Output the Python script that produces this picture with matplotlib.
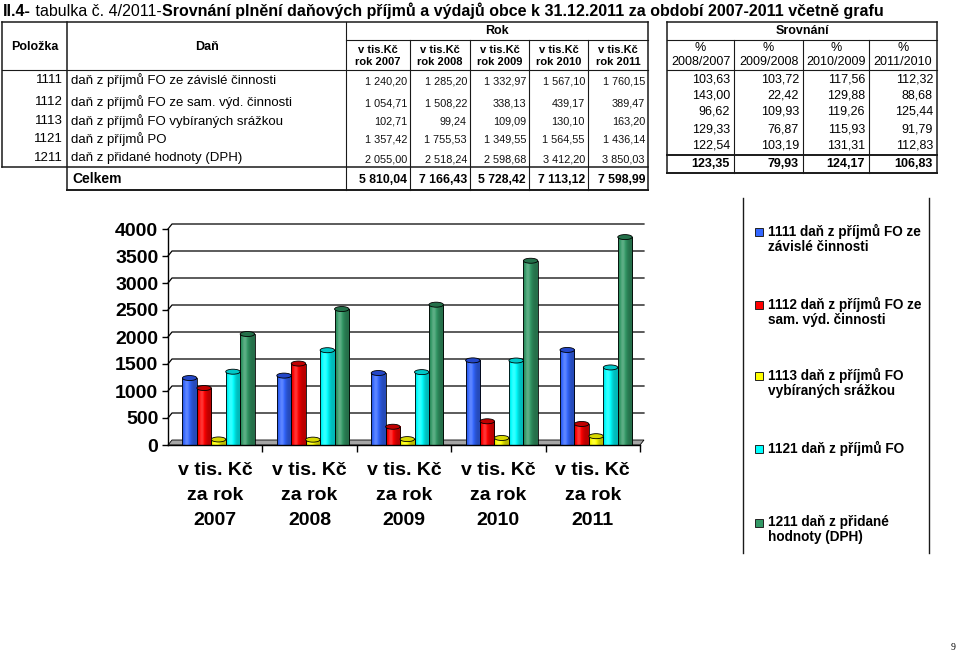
import numpy as np
import matplotlib
matplotlib.use('Agg')
import matplotlib.pyplot as plt
from matplotlib.patches import Ellipse, Polygon, Rectangle

# ---------------- data ----------------
years = ['2007', '2008', '2009', '2010', '2011']
codes = ['1111', '1112', '1113', '1121', '1211']
tax_names = ['daň z příjmů FO ze závislé činnosti',
             'daň z příjmů FO ze sam. výd. činnosti',
             'daň z příjmů FO vybíraných srážkou',
             'daň z příjmů PO',
             'daň z přidané hodnoty (DPH)']
legend_labels = ['1111 daň z příjmů FO ze\nzávislé činnosti',
                 '1112 daň z příjmů FO ze\nsam. výd. činnosti',
                 '1113 daň z příjmů FO\nvybíraných srážkou',
                 '1121 daň z příjmů FO',
                 '1211 daň z přidané\nhodnoty (DPH)']
v1111 = [1240.20, 1285.20, 1332.97, 1567.10, 1760.15]
v1112 = [1054.71, 1508.22, 338.13, 439.17, 389.47]
v1113 = [102.71, 99.24, 109.09, 130.10, 163.20]
v1121 = [1357.42, 1755.53, 1349.55, 1564.55, 1436.14]
v1211 = [2055.00, 2518.24, 2598.68, 3412.20, 3850.03]
totals = [5810.04, 7166.43, 5728.42, 7113.12, 7598.99]
series = [v1111, v1112, v1113, v1121, v1211]

cmp_periods = ['2008/2007', '2009/2008', '2010/2009', '2011/2010']
c1111 = [103.63, 103.72, 117.56, 112.32]
c1112 = [143.00, 22.42, 129.88, 88.68]
c1113 = [96.62, 109.93, 119.26, 125.44]
c1121 = [129.33, 76.87, 115.93, 91.79]
c1211 = [122.54, 103.19, 131.31, 112.83]
cmp_total = [123.35, 79.93, 124.17, 106.83]
cmp_rows = [c1111, c1112, c1113, c1121, c1211]

colors = ['#3366FF', '#FF0000', '#FFFF00', '#00FFFF', '#339966']
top_colors = ['#2447C8', '#C00000', '#D8D800', '#00C8C8', '#24704A']

SANS = 'Liberation Sans'


def fmt(v):
    return f"{v:,.2f}".replace(',', ' ').replace('.', ',')


def fmt_pct(v):
    return f"{v:.2f}".replace('.', ',')


fig = plt.figure(figsize=(9.6, 6.53), dpi=100)
bg = fig.add_axes([0, 0, 1, 1])
bg.set_xlim(0, 960)
bg.set_ylim(653, 0)
bg.axis('off')

LC = '#1a1a1a'


def hline(y, x0, x1, lw=0.8):
    bg.plot([x0, x1], [y, y], color=LC, lw=lw, solid_capstyle='projecting')


def vline(x, y0, y1, lw=0.8):
    bg.plot([x, x], [y0, y1], color=LC, lw=lw, solid_capstyle='projecting')


# ---------------- title ----------------
title_parts = [("II.4-", 'bold'), (" tabulka č. 4/2011-", 'normal'),
               ("Srovnání plnění daňových příjmů a výdajů obce k 31.12.2011 za období 2007-2011 včetně grafu", 'bold')]
fs0 = 10
tt = []
t = bg.text(3, 11, title_parts[0][0], fontsize=fs0, fontweight=title_parts[0][1],
            family=SANS, va='center', ha='left')
tt.append(t)
for txt, w in title_parts[1:]:
    t = bg.annotate(txt, xy=(1, 0.5), xycoords=tt[-1], fontsize=fs0, fontweight=w,
                    family=SANS, va='center', ha='left')
    tt.append(t)
fig.canvas.draw()
r = fig.canvas.get_renderer()
right = tt[-1].get_window_extent(r).x1
left = tt[0].get_window_extent(r).x0
scale = (880 - 3) / (right - left)
for t in tt:
    t.set_fontsize(fs0 * scale)

# ---------------- table 1 ----------------
L_cols = [2, 67, 346, 410, 470, 529, 588, 648]
T_top, T_rok, T_head = 22, 40, 70
row_bottom, cel_bottom = 167, 190
row_y = [80, 102, 121, 139, 158]
cel_y = 179

hline(T_top, L_cols[0], L_cols[-1], 1.1)
hline(T_rok, L_cols[2], L_cols[-1])
hline(T_head, L_cols[0], L_cols[-1])
hline(row_bottom, L_cols[0], L_cols[-1], 1.1)
hline(cel_bottom, L_cols[1], L_cols[-1], 1.4)
vline(L_cols[0], T_top, row_bottom, 1.1)
vline(L_cols[1], T_top, cel_bottom, 1.1)
vline(L_cols[2], T_top, cel_bottom)
for xc in L_cols[3:-1]:
    vline(xc, T_rok, cel_bottom)
vline(L_cols[-1], T_top, cel_bottom, 1.1)

bg.text((L_cols[0] + L_cols[1]) / 2, 47, 'Položka', fontsize=9, fontweight='bold',
        family=SANS, ha='center', va='center')
bg.text((L_cols[1] + L_cols[2]) / 2, 47, 'Daň', fontsize=9, fontweight='bold',
        family=SANS, ha='center', va='center')
bg.text((L_cols[2] + L_cols[-1]) / 2, 31, 'Rok', fontsize=9, fontweight='bold',
        family=SANS, ha='center', va='center')
for j, yr in enumerate(years):
    xc = (L_cols[2 + j] + L_cols[3 + j]) / 2
    bg.text(xc, 56, f'v tis.Kč\nrok {yr}', fontsize=8, fontweight='bold', family=SANS,
            ha='center', va='center', linespacing=1.3)

for i in range(5):
    y = row_y[i]
    bg.text(L_cols[1] - 4, y, codes[i], fontsize=9.5, family=SANS, ha='right', va='center')
    bg.text(L_cols[1] + 4, y, tax_names[i], fontsize=9.5, family=SANS, ha='left', va='center')
    for j in range(5):
        bg.text(L_cols[3 + j] - 3, y + 1, fmt(series[i][j]), fontsize=7.8, family=SANS,
                ha='right', va='center', color='#111111')
bg.text(L_cols[1] + 5, cel_y, 'Celkem', fontsize=10, fontweight='bold', family=SANS,
        ha='left', va='center')
for j in range(5):
    bg.text(L_cols[3 + j] - 3, cel_y + 1, fmt(totals[j]), fontsize=8.8, fontweight='bold',
            family=SANS, ha='right', va='center')

# ---------------- table 2 ----------------
R_cols = [667, 734, 803, 869, 937]
R_top, R_sub, R_head, R_line, R_bottom = 22, 40, 70, 155, 173
R_rows = [80, 96, 112, 129, 146]
R_tot = 164
hline(R_top, R_cols[0], R_cols[-1], 1.1)
hline(R_sub, R_cols[0], R_cols[-1])
hline(R_head, R_cols[0], R_cols[-1])
hline(R_line, R_cols[0], R_cols[-1], 1.4)
hline(R_bottom, R_cols[0], R_cols[-1], 1.4)
for k, xc in enumerate(R_cols):
    vline(xc, R_top if k in (0, 4) else R_sub, R_bottom, 1.1 if k in (0, 4) else 0.8)
bg.text((R_cols[0] + R_cols[-1]) / 2, 31, 'Srovnání', fontsize=9, fontweight='bold',
        family=SANS, ha='center', va='center')
for j, p in enumerate(cmp_periods):
    xc = (R_cols[j] + R_cols[j + 1]) / 2
    bg.text(xc, 55, f'%\n{p}', fontsize=9, family=SANS, ha='center', va='center',
            linespacing=1.25)
    for i in range(5):
        bg.text(R_cols[j + 1] - 4, R_rows[i], fmt_pct(cmp_rows[i][j]), fontsize=9,
                family=SANS, ha='right', va='center')
    bg.text(R_cols[j + 1] - 4, R_tot, fmt_pct(cmp_total[j]), fontsize=9, fontweight='bold',
            family=SANS, ha='right', va='center')

# ---------------- legend (manual) ----------------
vline(743, 198, 553, 1.0)
vline(929, 198, 553, 1.0)
leg_y = [232, 305, 376, 449, 523]
for k in range(5):
    bg.add_patch(Rectangle((755, leg_y[k] - 4), 8, 8, facecolor=colors[k],
                           edgecolor='#222222', lw=0.7))
    bg.text(768, leg_y[k] - 8, legend_labels[k], fontsize=9.8, fontweight='bold',
            family=SANS, ha='left', va='top', linespacing=1.12)

bg.text(953, 647, '9', fontsize=7, family='Liberation Serif', ha='center', va='center')

# ---------------- bar chart ----------------
ax_l, ax_b, ax_w, ax_h = 168, 445, 472, 216
ax = fig.add_axes([ax_l / 960, (653 - ax_b) / 653, ax_w / 960, ax_h / 653])
ax.patch.set_alpha(0)
ax.set_xlim(-0.5, 4.5)
ax.set_ylim(0, 4000)
x = np.arange(len(years))
bw = 0.153
offs = (np.arange(5) - 2) * bw + 0.035

dx = 4 * 5.0 / ax_w
dy = 5 * 4000.0 / ax_h
ell_h = 5 * 4000.0 / ax_h

# back-wall gridlines
for yv in range(500, 4001, 500):
    ax.plot([-0.5, -0.5 + dx, 4.5 + dx], [yv, yv + dy, yv + dy], color='black', lw=0.9,
            clip_on=False, zorder=1)
# floor
ax.add_patch(Polygon([(-0.5, 0), (4.5, 0), (4.5 + dx, dy), (-0.5 + dx, dy)], closed=True,
                     facecolor='#A6A6A6', edgecolor='black', lw=0.6, clip_on=False, zorder=2))

tgrid = np.linspace(0, 1, 64)


def shade_img(c):
    base = np.array(matplotlib.colors.to_rgb(c))
    s = 0.72 + 0.42 * np.exp(-((tgrid - 0.32) / 0.28) ** 2)
    s = s[:, None]
    rgb = base[None, :] * np.minimum(s, 1) + (1 - base[None, :]) * np.maximum(s - 1, 0) * 1.5
    return np.clip(rgb, 0, 1)[None, :, :]


for i, vals in enumerate(series):
    bars = ax.bar(x + offs[i], vals, bw, facecolor=colors[i], edgecolor='black',
                  linewidth=0.6, zorder=3)
    img = shade_img(colors[i])
    for p in bars:
        x0, y0, w, h = p.get_x(), p.get_y(), p.get_width(), p.get_height()
        ax.imshow(img, extent=[x0, x0 + w, y0, y0 + h], aspect='auto', zorder=3.2,
                  interpolation='bilinear')
        p.set_facecolor('none')
        p.set_zorder(3.4)
        ax.add_patch(Ellipse((x0 + w / 2, y0 + h), w, ell_h, facecolor=top_colors[i],
                             edgecolor='black', lw=0.6, zorder=3.6, clip_on=False))

ax.set_xlim(-0.5, 4.5)
ax.set_ylim(0, 4000)
for s in ['top', 'right']:
    ax.spines[s].set_visible(False)
for s in ['left', 'bottom']:
    ax.spines[s].set_color('black')
    ax.spines[s].set_linewidth(1.0)
    ax.spines[s].set_zorder(5)

ax.set_yticks(range(0, 4001, 500))
ax.set_yticklabels([str(v) for v in range(0, 4001, 500)], fontsize=14, fontweight='bold',
                   family=SANS)
ax.tick_params(axis='y', length=4, width=1, pad=3, direction='out')
ax.set_xticks(x)
ax.set_xticklabels([f'v tis. Kč\nza rok\n{yr}' for yr in years], fontsize=14,
                   fontweight='bold', family=SANS, linespacing=1.62)
ax.set_xticks([0.5, 1.5, 2.5, 3.5, 4.5], minor=True)
ax.tick_params(axis='x', which='major', length=0, pad=12)
ax.tick_params(axis='x', which='minor', length=5, width=1, direction='out')

fig.savefig('out.png', dpi=100)
